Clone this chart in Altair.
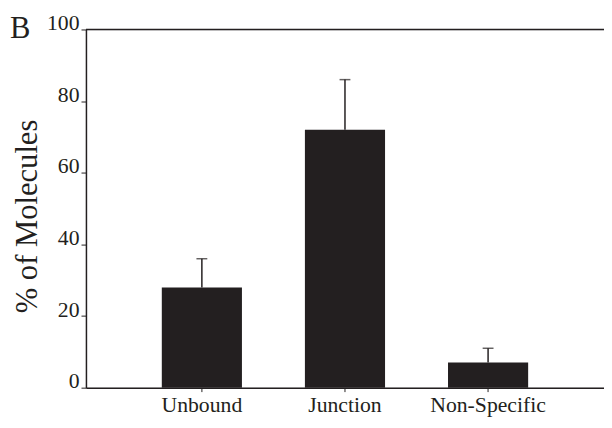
import altair as alt
import pandas as pd

categories = ["Unbound", "Junction", "Non-Specific"]
values = [28, 72, 7]
error_tops = [36, 86, 11]

df = pd.DataFrame({"cat": categories, "val": values, "err": error_tops})

FONT = "Liberation Serif"
INK = "#231f20"

x_enc = alt.X(
    "cat:N",
    sort=categories,
    scale=alt.Scale(paddingInner=0.44, paddingOuter=0.53),
    axis=alt.Axis(
        title=None, labelAngle=0, labelFont=FONT, labelFontSize=22,
        labelColor=INK, labelPadding=3, tickSize=4, tickColor=INK,
        domainColor=INK, domainWidth=1.5, tickWidth=1, grid=False,
    ),
)
y_scale = alt.Scale(domain=[0, 100], nice=False, zero=True)
y_axis = alt.Axis(
    values=[0, 20, 40, 60, 80, 100], title="% of Molecules",
    titleFont=FONT, titleFontSize=31, titleFontWeight="normal",
    titleColor=INK, titleAngle=270, titleAlign="center",
    titleBaseline="alphabetic", titleX=-50, titleY=189,
    labelFont=FONT, labelFontSize=22, labelColor=INK,
    labelBaseline="alphabetic", labelPadding=2, tickSize=5,
    tickColor=INK, domainColor=INK, domainWidth=1.5, grid=False,
)

base = alt.Chart(df)

bars = base.mark_bar(color=INK).encode(
    x=x_enc,
    y=alt.Y("val:Q", scale=y_scale, axis=y_axis),
)

err_line = base.mark_rule(color=INK, strokeWidth=1.5).encode(
    x=alt.X("cat:N", sort=categories),
    y="val:Q",
    y2="err:Q",
)

err_cap = base.mark_tick(color=INK, orient="horizontal", size=11, thickness=1.5).encode(
    x=alt.X("cat:N", sort=categories),
    y="err:Q",
)

top_line = alt.Chart(pd.DataFrame({"v": [100]})).mark_rule(color=INK, strokeWidth=1.5).encode(
    y=alt.Y("v:Q", scale=y_scale),
    x=alt.value(0),
    x2=alt.value(525),
)

label_b = alt.Chart(pd.DataFrame({"t": ["B"]})).mark_text(
    font=FONT, fontSize=31, color=INK, align="left", baseline="alphabetic"
).encode(
    text="t:N",
    x=alt.value(-77),
    y=alt.value(9),
)

chart = alt.layer(bars, err_line, err_cap, top_line, label_b).properties(
    width=525,
    height=363,
    padding={"left": 79, "top": 19, "right": 0, "bottom": 30},
    autosize=alt.AutoSizeParams(type="none"),
).configure_view(stroke=None).configure(background="white")

chart.save("out.html", embed_options={"renderer": "svg", "actions": False})
